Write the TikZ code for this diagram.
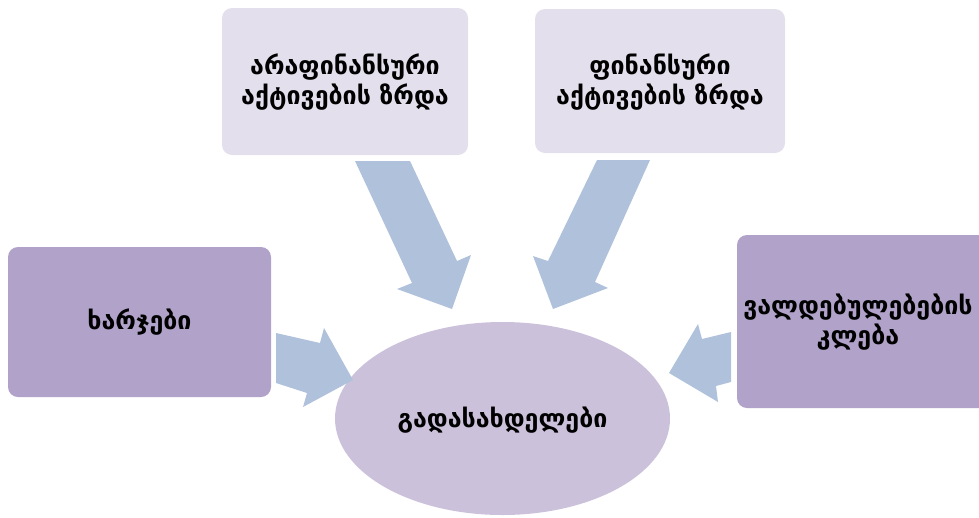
\documentclass[tikz,border=0pt]{standalone}
\usepackage{fontspec}
\setmainfont{DejaVu Sans}
\newfontfamily\geo{DejaVu Sans}
\definecolor{topbox}{HTML}{E4DFEC}
\definecolor{sidebox}{HTML}{B1A2C9}
\definecolor{ellfill}{HTML}{CCC1DB}
\definecolor{arrowc}{HTML}{B0C1DB}
\tikzset{
  lbl/.style={font=\geo\bfseries\fontsize{25}{30}\selectfont, align=center, text=black},
  boxtop/.style={fill=topbox, rounded corners=10pt},
  boxside/.style={fill=sidebox, rounded corners=10pt},
  blockarrow/.style={fill=arrowc, draw=none}
}
\begin{document}
\begin{tikzpicture}[x=1pt,y=-1pt]
\useasboundingbox (0,0) rectangle (979,517);
\clip (0,0) rectangle (979,517);
% boxes
\fill[boxtop] (222,8) rectangle (468,155);
\node[lbl] (tl) at (345,82) {არაფინანსური\\აქტივების ზრდა};
\fill[boxtop] (535,9) rectangle (785,153);
\node[lbl] (tr) at (660,82) {ფინანსური\\აქტივების ზრდა};
\fill[boxside] (8,247) rectangle (271,397);
\node[lbl] (l) at (139.5,322) {ხარჯები};
\fill[boxside] (737,235) rectangle (995,408);
\node[lbl] (r) at (858,322) {ვალდებულებების\\კლება};
% ellipse
\fill[ellfill] (502.5,418.5) ellipse [x radius=167.5, y radius=96.5];
\node[lbl] (c) at (502.5,420) {გადასახდელები};
% arrows
\fill[blockarrow] (355,161) -- (410,161) -- (457,261) -- (471,255) -- (452,309) -- (397,289) -- (412,283) -- cycle;
\fill[blockarrow] (650,160) -- (597,160) -- (548,261) -- (533,256) -- (553,309) -- (608,288) -- (595,282) -- cycle;
\fill[blockarrow] (276,333) -- (320,343) -- (324,328) -- (353,380) -- (303,407) -- (307,393) -- (276,383) -- cycle;
\fill[blockarrow] (731,332) -- (702,339) -- (698,324) -- (669,373) -- (718,402) -- (716,386) -- (731,382) -- cycle;
\end{tikzpicture}
\end{document}
